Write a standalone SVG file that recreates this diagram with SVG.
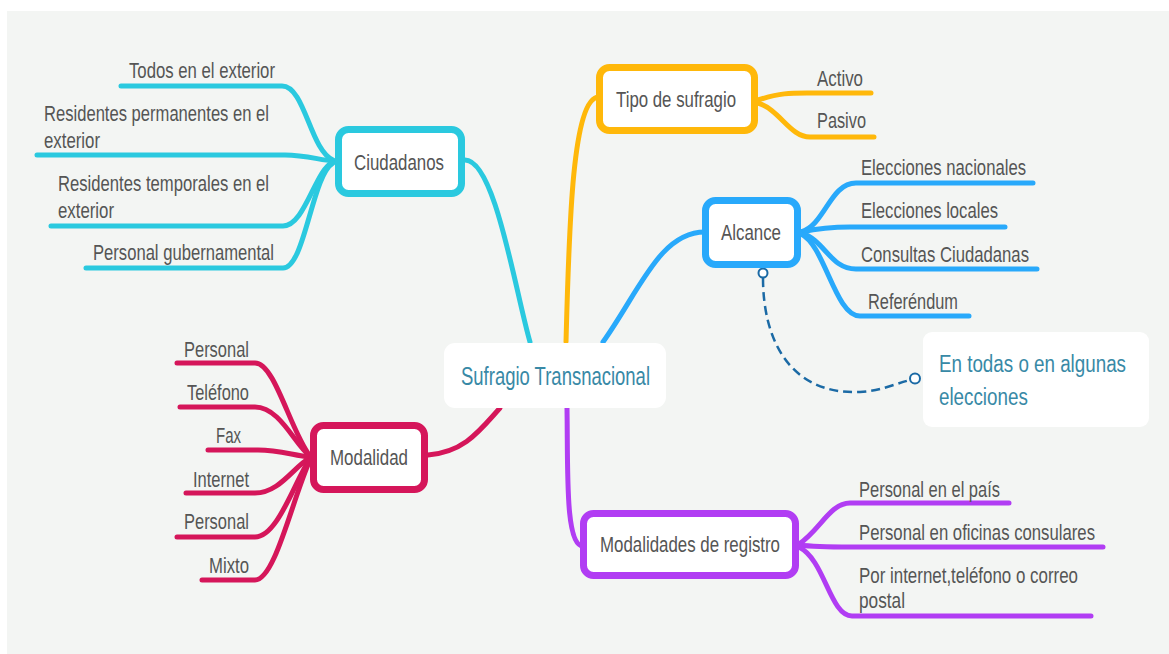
<svg xmlns="http://www.w3.org/2000/svg" width="1169" height="654" viewBox="0 0 1169 654">
<style>
text{font-family:"Liberation Sans",Arial,sans-serif;font-size:22px;fill:#555;}
.c{fill:none;stroke-width:5;stroke-linecap:round;stroke-linejoin:round;}
.box{fill:#fff;stroke-width:7;}
.cy{stroke:#2ac9df;} .or{stroke:#ffb80a;} .bl{stroke:#28a9fb;} .cr{stroke:#d5165a;} .pu{stroke:#b13df3;}
.big{font-size:23.5px;fill:#3889a6;}
</style>
<rect x="0" y="0" width="1169" height="654" fill="#fff"/>
<rect x="7" y="11" width="1162" height="643" fill="#f3f5f3"/>
<g id="connectors">
<path class="c cy" d="M465,160 C495,160 515,290 530,342"/>
<path class="c cy" d="M121,86 H282 C305,86 310,150 333,160"/>
<path class="c cy" d="M37,155 H285 C305,155 320,160 333,161"/>
<path class="c cy" d="M51,226 H283 C305,226 315,170 333,162"/>
<path class="c cy" d="M86,268 H283 C305,268 312,175 333,163"/>
<path class="c or" d="M566,342 C569,230 572,97 599,97"/>
<path class="c or" d="M758,100 C780,93 790,93 807,93 H871"/>
<path class="c or" d="M758,103 C780,110 790,137 810,137 H874"/>
<path class="c bl" d="M603,342 C640,290 660,232 705,232"/>
<path class="c bl" d="M801,232 C825,225 830,183 856,183 H1033"/>
<path class="c bl" d="M801,232 C820,228 830,227 850,227 H1005"/>
<path class="c bl" d="M801,233 C825,240 830,269 856,269 H1037"/>
<path class="c bl" d="M801,234 C825,245 835,316 860,316 H969"/>
<path class="c cr" d="M428,455 C465,452 480,430 500,408"/>
<path class="c cr" d="M177,363 H255 C275,363 290,430 310,456"/>
<path class="c cr" d="M180,407 H255 C280,407 295,445 310,456"/>
<path class="c cr" d="M208,450 H258 C280,450 295,456 310,457"/>
<path class="c cr" d="M186,493 H255 C280,493 295,465 310,458"/>
<path class="c cr" d="M177,537 H255 C278,537 295,480 310,459"/>
<path class="c cr" d="M202,580 H255 C275,580 292,500 310,460"/>
<path class="c pu" d="M567,408 C568,470 565,546 583,546"/>
<path class="c pu" d="M799,544 C820,530 830,503 850,503 H1009"/>
<path class="c pu" d="M799,545 C815,547 830,547 850,547 H1103"/>
<path class="c pu" d="M799,547 C825,560 830,616 852,616 H1091"/>
<path d="M763,278 C763,340 790,395 860,392 C880,391 895,384 910,380" fill="none" stroke="#1b6aa5" stroke-width="2.5" stroke-dasharray="9,5"/>
<circle cx="763" cy="273" r="4.5" fill="#fff" stroke="#1b6aa5" stroke-width="2"/>
<circle cx="915" cy="378.5" r="5" fill="#fff" stroke="#1b6aa5" stroke-width="2"/>
</g>
<g id="center">
<rect x="444" y="343" width="222" height="65" rx="11" fill="#fff"/>
<text class="big" x="461" y="385" textLength="189" lengthAdjust="spacingAndGlyphs" style="font-size:25px">Sufragio Transnacional</text>
</g>
<g id="ciudadanos">
<rect class="box cy" x="338.5" y="129.5" width="123" height="64" rx="10"/>
<text x="354" y="170" textLength="90" lengthAdjust="spacingAndGlyphs">Ciudadanos</text>
</g>
<g id="ciud-1"><text x="129" y="78" textLength="146" lengthAdjust="spacingAndGlyphs">Todos en el exterior</text></g>
<g id="ciud-2"><text x="44" y="121" textLength="225" lengthAdjust="spacingAndGlyphs">Residentes permanentes en el</text><text x="44" y="148" textLength="56" lengthAdjust="spacingAndGlyphs">exterior</text></g>
<g id="ciud-3"><text x="58" y="191" textLength="211" lengthAdjust="spacingAndGlyphs">Residentes temporales en el</text><text x="58" y="218" textLength="56" lengthAdjust="spacingAndGlyphs">exterior</text></g>
<g id="ciud-4"><text x="93" y="260" textLength="181" lengthAdjust="spacingAndGlyphs">Personal gubernamental</text></g>
<g id="tipo">
<rect class="box or" x="599.5" y="67.5" width="155" height="63" rx="10"/>
<text x="616" y="107" textLength="120" lengthAdjust="spacingAndGlyphs">Tipo de sufragio</text>
</g>
<g id="tipo-1"><text x="817" y="86" textLength="46" lengthAdjust="spacingAndGlyphs">Activo</text></g>
<g id="tipo-2"><text x="817" y="128" textLength="49" lengthAdjust="spacingAndGlyphs">Pasivo</text></g>
<g id="alcance">
<rect class="box bl" x="705.5" y="200.5" width="92" height="64" rx="10"/>
<text x="721" y="240" textLength="60" lengthAdjust="spacingAndGlyphs">Alcance</text>
</g>
<g id="alc-1"><text x="861" y="175" textLength="165" lengthAdjust="spacingAndGlyphs">Elecciones nacionales</text></g>
<g id="alc-2"><text x="861" y="218" textLength="137" lengthAdjust="spacingAndGlyphs">Elecciones locales</text></g>
<g id="alc-3"><text x="861" y="262" textLength="168" lengthAdjust="spacingAndGlyphs">Consultas Ciudadanas</text></g>
<g id="alc-4"><text x="868" y="309" textLength="90" lengthAdjust="spacingAndGlyphs">Referéndum</text></g>
<g id="nota">
<rect x="923" y="332" width="226" height="95" rx="9" fill="#fff"/>
<text class="big" transform="translate(939,372) scale(0.8,1)">En todas o en algunas</text>
<text class="big" transform="translate(939,405) scale(0.8,1)">elecciones</text>
</g>
<g id="registro">
<rect class="box pu" x="583.5" y="513.5" width="212" height="62" rx="10"/>
<text x="600" y="552" textLength="180" lengthAdjust="spacingAndGlyphs">Modalidades de registro</text>
</g>
<g id="reg-1"><text x="859" y="497" textLength="141" lengthAdjust="spacingAndGlyphs">Personal en el país</text></g>
<g id="reg-2"><text x="859" y="540" textLength="236" lengthAdjust="spacingAndGlyphs">Personal en oficinas consulares</text></g>
<g id="reg-3"><text x="859" y="583" textLength="219" lengthAdjust="spacingAndGlyphs">Por internet,teléfono o correo</text><text x="859" y="608" textLength="46" lengthAdjust="spacingAndGlyphs">postal</text></g>
<g id="modalidad">
<rect class="box cr" x="313.5" y="425.5" width="111" height="64" rx="10"/>
<text x="330" y="465" textLength="78" lengthAdjust="spacingAndGlyphs">Modalidad</text>
</g>
<g id="mod-1"><text x="184" y="357" textLength="65" lengthAdjust="spacingAndGlyphs">Personal</text></g>
<g id="mod-2"><text x="187" y="400" textLength="62" lengthAdjust="spacingAndGlyphs">Teléfono</text></g>
<g id="mod-3"><text x="216" y="443" textLength="25" lengthAdjust="spacingAndGlyphs">Fax</text></g>
<g id="mod-4"><text x="193" y="487" textLength="56" lengthAdjust="spacingAndGlyphs">Internet</text></g>
<g id="mod-5"><text x="184" y="529" textLength="65" lengthAdjust="spacingAndGlyphs">Personal</text></g>
<g id="mod-6"><text x="209" y="573" textLength="40" lengthAdjust="spacingAndGlyphs">Mixto</text></g>
</svg>
